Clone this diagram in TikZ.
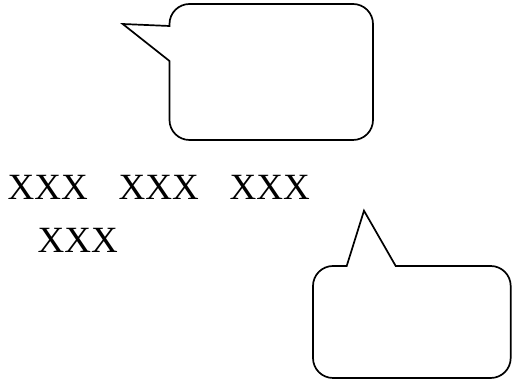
\documentclass[tikz,border=0pt]{standalone}
\usepackage{fontspec}
\setmainfont{Liberation Serif}
\begin{document}
\begin{tikzpicture}[x=1pt,y=1pt,
  bubble/.style={draw=black, line width=1.7pt, line join=miter, fill=white},
  lbl/.style={anchor=base west, inner sep=0pt, font=\fontsize{37}{44}\selectfont}]
\useasboundingbox (0,0) rectangle (515,382);
% upper callout
\draw[bubble] (169.5,321) -- (122.7,358) -- (169.5,356) -- (169.5,358)
  arc[start angle=180,end angle=90,radius=20pt] -- (353,378)
  arc[start angle=90,end angle=0,radius=20pt] -- (373,262)
  arc[start angle=0,end angle=-90,radius=20pt] -- (189.5,242)
  arc[start angle=270,end angle=180,radius=20pt] -- cycle;
% lower callout
\draw[bubble] (313,96)
  arc[start angle=180,end angle=90,radius=20pt] -- (346.7,116) -- (364,171.3) -- (395.7,116) -- (490.7,116)
  arc[start angle=90,end angle=0,radius=20pt] -- (510.7,24)
  arc[start angle=0,end angle=-90,radius=20pt] -- (333,4)
  arc[start angle=270,end angle=180,radius=20pt] -- cycle;
% text
\node[lbl] (w1) at (7.5,182) {XXX};
\node[lbl] (w2) at (118.5,182) {XXX};
\node[lbl] (w3) at (229.5,182) {XXX};
\node[lbl] (w4) at (37.5,129.3) {XXX};
\end{tikzpicture}
\end{document}
